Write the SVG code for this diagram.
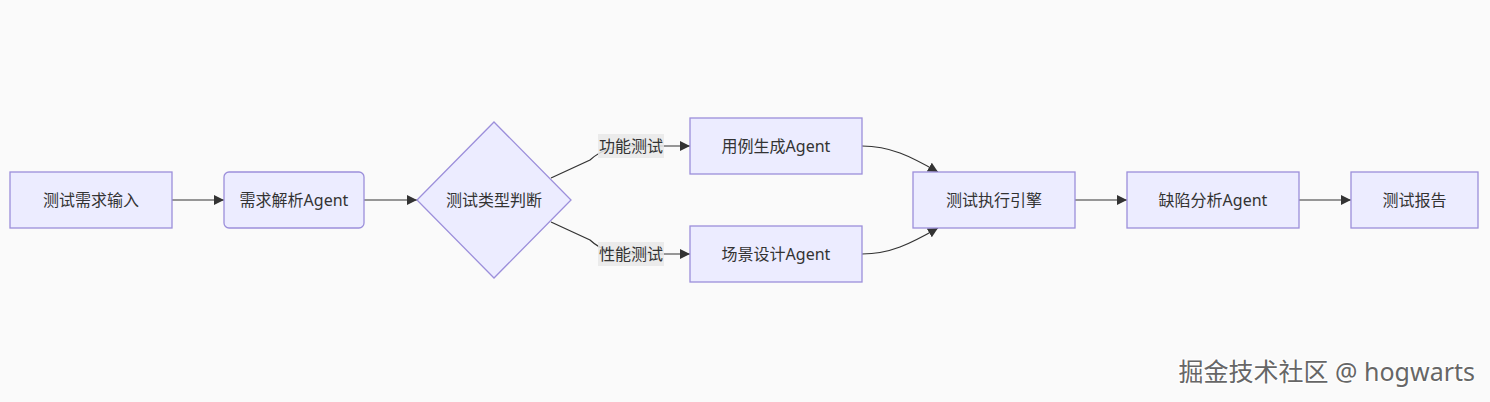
<svg xmlns="http://www.w3.org/2000/svg" width="1490" height="402" viewBox="0 0 1490 402">
<style>
.node rect, .node polygon { fill: #ECECFF; stroke: #9C8FDB; stroke-width: 1.3; }
.lbl { font-family: "Noto Sans", "Noto Sans CJK SC", sans-serif; font-size: 16px; fill: #333333; text-anchor: middle; }
.edge { fill: none; stroke: #333333; stroke-width: 1.2; }
.elbg { fill: #E8E8E8; fill-opacity: 0.85; }
.wm { font-family: "Noto Sans", "Noto Sans CJK SC", sans-serif; font-size: 25px; fill: #666666; stroke: #ffffff; stroke-width: 2; paint-order: stroke; text-anchor: end; }
</style>
<defs>
<marker id="arrow" viewBox="0 0 10 10" refX="10" refY="5" markerWidth="10" markerHeight="10" markerUnits="userSpaceOnUse" orient="auto">
<path d="M0,0 L10,5 L0,10 z" fill="#333333"/>
</marker>
</defs>
<rect x="0" y="0" width="1490" height="402" fill="#FAFAFA"/>
<g id="connectors">
<path class="edge" d="M172,200 L224,200" marker-end="url(#arrow)"/>
<path class="edge" d="M364,200 L417,200" marker-end="url(#arrow)"/>
<path class="edge" d="M551,178 L590,160 Q605,146 630,146 L690,146" marker-end="url(#arrow)"/>
<path class="edge" d="M551,222 L590,240 Q605,254 630,254 L690,254" marker-end="url(#arrow)"/>
<path class="edge" d="M862,146 C890,146 910,156 938,172" marker-end="url(#arrow)"/>
<path class="edge" d="M862,254 C890,254 910,244 938,228" marker-end="url(#arrow)"/>
<path class="edge" d="M1075,200 L1127,200" marker-end="url(#arrow)"/>
<path class="edge" d="M1299,200 L1351,200" marker-end="url(#arrow)"/>
<g id="edge-label-func">
<rect class="elbg" x="598" y="134" width="66" height="24"/>
<text class="lbl" x="631" y="152">功能测试</text>
</g>
<g id="edge-label-perf">
<rect class="elbg" x="598" y="242" width="66" height="24"/>
<text class="lbl" x="631" y="260">性能测试</text>
</g>
</g>
<g id="n1" class="node">
<rect x="10" y="172" width="162" height="56"/>
<text class="lbl" x="91" y="206">测试需求输入</text>
</g>
<g id="n2" class="node">
<rect x="224" y="172" width="140" height="56" rx="5" ry="5"/>
<text class="lbl" x="294" y="206">需求解析Agent</text>
</g>
<g id="n3" class="node">
<polygon points="494,122 571,200 494,278 417,200"/>
<text class="lbl" x="494" y="206">测试类型判断</text>
</g>
<g id="n4" class="node">
<rect x="690" y="118" width="172" height="56"/>
<text class="lbl" x="776" y="152">用例生成Agent</text>
</g>
<g id="n5" class="node">
<rect x="690" y="226" width="172" height="56"/>
<text class="lbl" x="776" y="260">场景设计Agent</text>
</g>
<g id="n6" class="node">
<rect x="913" y="172" width="162" height="56"/>
<text class="lbl" x="994" y="206">测试执行引擎</text>
</g>
<g id="n7" class="node">
<rect x="1127" y="172" width="172" height="56"/>
<text class="lbl" x="1213" y="206">缺陷分析Agent</text>
</g>
<g id="n8" class="node">
<rect x="1351" y="172" width="127" height="56"/>
<text class="lbl" x="1414.5" y="206">测试报告</text>
</g>
<text class="wm" x="1475" y="381">掘金技术社区 @ hogwarts</text>
</svg>
